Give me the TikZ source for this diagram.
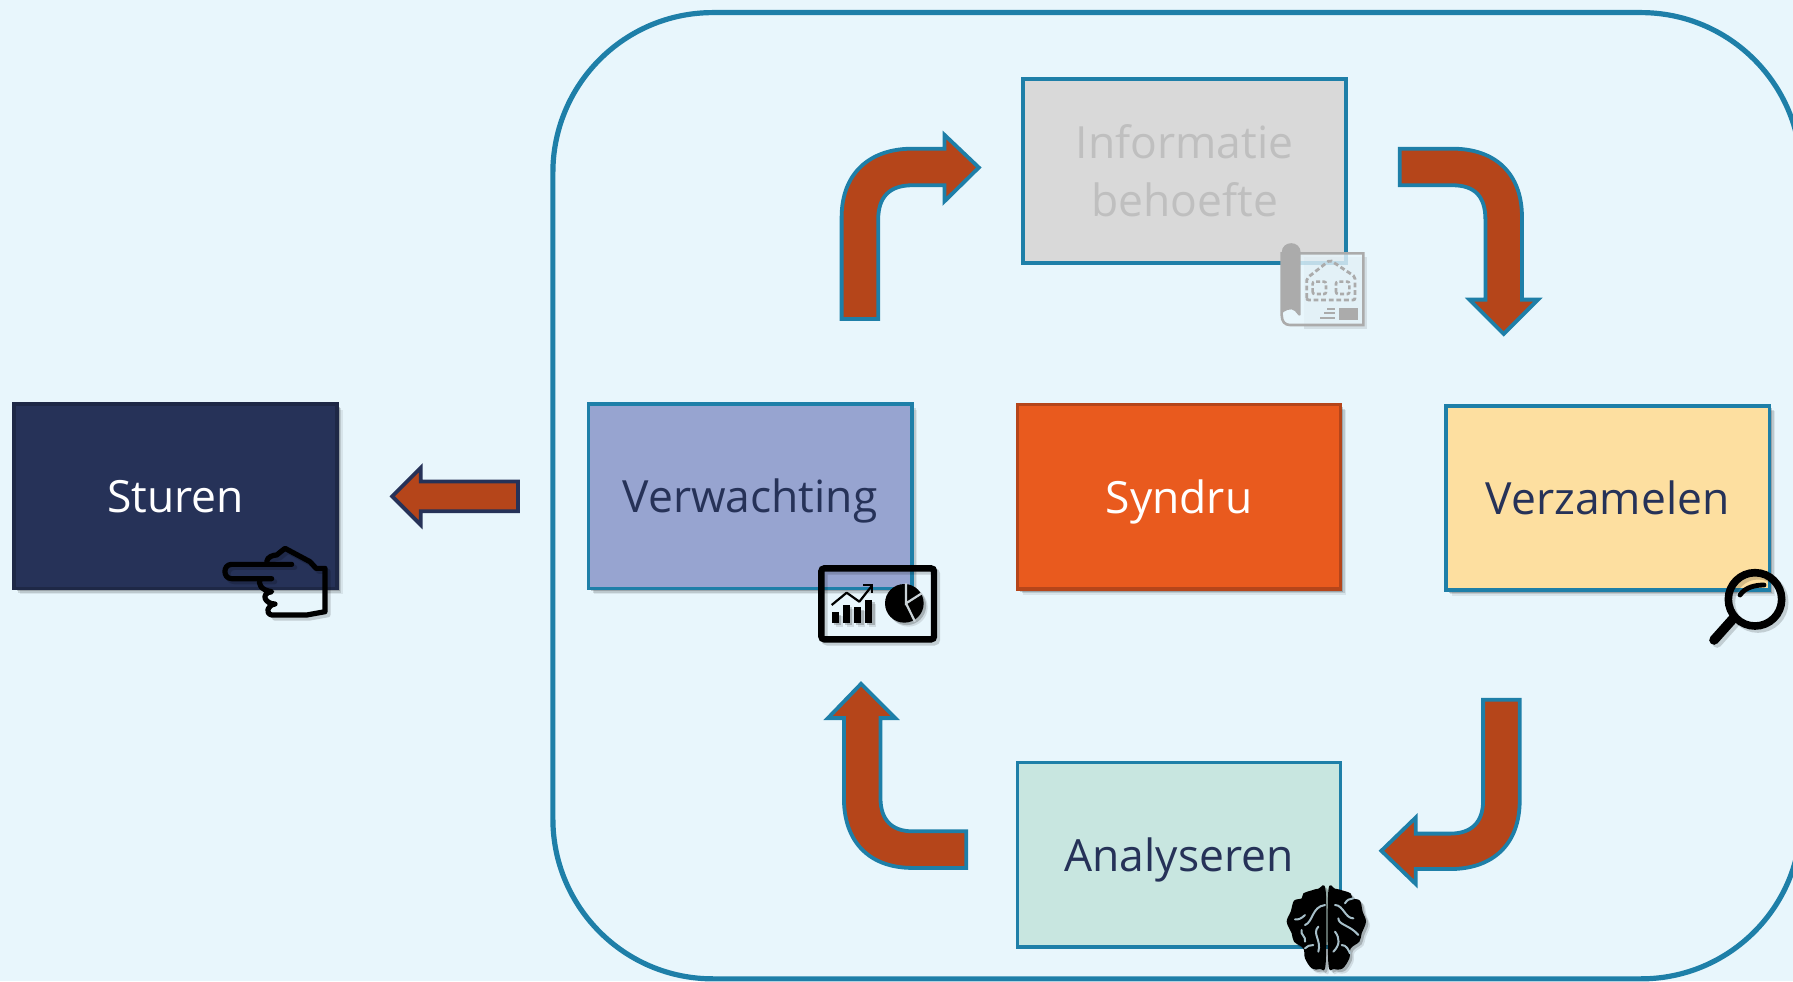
\documentclass[tikz,border=0pt]{standalone}
\usepackage{fontspec}
\setmainfont{Open Sans}
\usetikzlibrary{shadows}
\definecolor{bgc}{HTML}{E8F6FC}
\definecolor{teal}{HTML}{1E7FA8}
\definecolor{navy}{HTML}{263258}
\definecolor{rust}{HTML}{B5451A}
\definecolor{orng}{HTML}{E95A1E}
\definecolor{peri}{HTML}{97A4D0}
\definecolor{sand}{HTML}{FDDFA0}
\definecolor{mint}{HTML}{C8E6E0}
\definecolor{docg}{HTML}{ABABAB}
\newcommand{\bt}[1]{\raisebox{-0.4pt}[21.5pt][5.7pt]{#1}}
\tikzset{
  softshadow/.style={drop shadow={shadow xshift=2.8pt,shadow yshift=-2.8pt,opacity=.07,fill=black},drop shadow={shadow xshift=2.1pt,shadow yshift=-2.1pt,opacity=.12,fill=black},drop shadow={shadow xshift=1.3pt,shadow yshift=-1.3pt,opacity=.18,fill=black}},
  blockbox/.style={draw=teal,line width=1.8pt,minimum width=161.6pt,minimum height=92.2pt,inner sep=0pt,align=center,font=\fontsize{22.2}{29}\selectfont,text=navy},
  blockarrow/.style={draw=teal,fill=rust,line width=1.9pt,line join=miter},
  icon/.style 2 args={xshift=#1*0.5pt,yshift=-#2*0.5pt,x=0.16667pt,y=-0.16667pt},
  iconshade/.style={drop shadow={shadow xshift=2pt,shadow yshift=-2pt,opacity=.1,fill=black},drop shadow={shadow xshift=1.2pt,shadow yshift=-1.2pt,opacity=.2,fill=black}},
  strokeshade/.style={draw=black,draw opacity=.16,shift={(9,9)}},
}
\begin{document}
\begin{tikzpicture}[x=0.57175pt,y=-0.57175pt]
\useasboundingbox (0,0) rectangle (1568,858);
\fill[bgc] (0,0) rectangle (1568,858);
\begin{scope}
\clip (0,0) rectangle (1568,858);
\draw[teal,line width=2.6pt,rounded corners=80pt] (483.5,11) rectangle (1575,856);
\end{scope}
% boxes
\node[blockbox,softshadow,fill=navy,draw=navy!80!black,text=white] (sturen) at (153.5,434) {\bt{Sturen}};
\node[blockbox,softshadow,fill=peri] (verw) at (656,434) {\bt{Verwachting}};
\node[blockbox,softshadow,fill=orng,draw=rust,text=white] (syndru) at (1031,434.5) {\bt{Syndru}};
\node[blockbox,softshadow,fill=sand] (verz) at (1406,435.5) {\bt{Verzamelen}};
\node[blockbox,fill=black!15,text=black!25] (info) at (1036,149.5) {\bt{Informatie}\\\bt{behoefte}};
\node[blockbox,fill=mint] (anal) at (1031,747.5) {\bt{Analyseren}};
% block arrows
\draw[blockarrow] (736,279) -- (736,190) .. controls (736,152) and (760,130) .. (798,130) -- (826,130) -- (826,118) -- (856,146.5) -- (826,176) -- (826,162) -- (798,162) .. controls (778,162) and (768,172) .. (768,192) -- (768,279) -- cycle;
\draw[blockarrow] (1224,130) -- (1270,130) .. controls (1308,130) and (1331,152) .. (1331,190) -- (1331,262) -- (1345,262) -- (1315,292) -- (1285,262) -- (1299,262) -- (1299,192) .. controls (1299,172) and (1290,162) .. (1270,162) -- (1224,162) -- cycle;
\draw[blockarrow] (1329,612) -- (1297,612) -- (1297,700) .. controls (1297,719) and (1287,729) .. (1268,729) -- (1238,729) -- (1238,715) -- (1208,744) -- (1238,773) -- (1238,760) -- (1268,760) .. controls (1306,760) and (1329,738) .. (1329,700) -- cycle;
\draw[blockarrow] (845,727) -- (798,727) .. controls (780,727) and (770,717) .. (770,698) -- (770,628) -- (783,628) -- (753,598) -- (724,628) -- (738,628) -- (738,698) .. controls (738,736) and (760,759) .. (798,759) -- (845,759) -- cycle;
\draw[blockarrow,draw=navy] (453,421) -- (368,421) -- (368,409) -- (343,434) -- (368,459) -- (368,447) -- (453,447) -- cycle;
% hand icon
\begin{scope}[icon={210}{530},line width=2.6pt,line cap=round,line join=round]
\draw[strokeshade] (245,103) -- (65,103) .. controls (38,103) and (38,146) .. (65,146) -- (185,146) (170,95) .. controls (172,80) and (190,75) .. (200,75) -- (225,55) -- (300,95) -- (318,115) -- (345,115) -- (345,245) -- (290,255) -- (185,255);
\draw (245,103) -- (65,103) .. controls (38,103) and (38,146) .. (65,146) -- (185,146);
\draw (170,95) .. controls (172,80) and (190,75) .. (200,75) -- (225,55) -- (300,95) -- (318,115) -- (345,115) -- (345,245) -- (290,255) -- (185,255) .. controls (165,250) and (172,225) .. (195,222) .. controls (165,222) and (150,190) .. (185,185) .. controls (150,180) and (145,160) .. (150,148);
\end{scope}
% chart icon
\begin{scope}[icon={800}{550}]
\draw[strokeshade,line width=3.2pt,rounded corners=1.5pt] (64,55) rectangle (402,268);
\draw[line width=3.2pt,rounded corners=1.5pt] (64,55) rectangle (402,268);
\fill[iconshade] (95,187) rectangle (117,218);
\fill[iconshade] (128,165) rectangle (150,218);
\fill[iconshade] (162,172) rectangle (184,218);
\fill[iconshade] (195,150) rectangle (217,218);
\draw[line width=1.1pt,line join=round] (95,165) -- (140,128) -- (178,155) -- (215,108);
\draw[line width=1.1pt] (190,105) -- (217,105) -- (217,130);
\fill[iconshade] (313,160) circle[radius=58];
\draw[bgc!70!gray,line width=1.1pt] (318,100) -- (318,160) -- (365,130) (318,160) -- (345,215);
\end{scope}
% magnifier icon
\begin{scope}[icon={1690}{550},line cap=round]
\draw[strokeshade,line width=3.8pt] (195,148) circle[radius=80];
\draw[strokeshade,line width=4.8pt] (130,205) -- (72,270);
\draw[line width=3.8pt] (195,148) circle[radius=80];
\draw[line width=4.8pt] (130,205) -- (72,270);
\draw[line width=2.4pt] (150,135) .. controls (165,112) and (195,105) .. (222,105);
\end{scope}
% brain icon
\begin{scope}[icon={1270}{870}]
\fill[iconshade] plot[smooth cycle,tension=.55] coordinates {(167,62) (145,56) (122,62) (100,70) (95,85) (72,92) (62,125) (50,155) (65,190) (72,215) (100,235) (105,265) (125,295) (150,297) (167,280)};
\fill[iconshade] plot[smooth cycle,tension=.55] coordinates {(175,62) (195,56) (220,62) (242,70) (248,85) (270,92) (278,125) (288,155) (275,190) (268,215) (242,235) (238,265) (218,295) (192,297) (175,280)};
\begin{scope}[line width=1pt,line cap=round,draw=gray!50!teal!50!white]
\draw (75,148) .. controls (85,150) and (95,145) .. (105,135);
\draw (105,165) .. controls (130,155) and (125,110) .. (165,105);
\draw (95,180) .. controls (90,195) and (110,200) .. (105,215);
\draw (145,170) .. controls (125,190) and (155,210) .. (145,245);
\draw (105,235) .. controls (110,228) and (120,225) .. (130,225);
\draw (195,105) .. controls (220,105) and (225,145) .. (250,145);
\draw (205,145) .. controls (205,165) and (240,165) .. (265,195);
\draw (195,185) .. controls (210,205) and (210,225) .. (190,245);
\draw (215,225) .. controls (230,225) and (235,240) .. (240,250);
\draw (225,100) .. controls (230,90) and (240,85) .. (250,85);
\end{scope}
\end{scope}
% plan icon
\begin{scope}[icon={1240}{220},docg]
\fill[black,opacity=.09,shift={(12,12)}] (180,100) rectangle (370,315);
\path[fill=bgc,fill opacity=.8,draw=docg,line width=1.3pt] (180,100) -- (370,100) -- (370,315) -- (150,315) .. controls (135,315) and (125,305) .. (125,285) -- (125,100) -- cycle;
\path[fill=docg] (125,285) -- (125,98) .. controls (125,60) and (182,60) .. (182,98) -- (182,285) .. controls (175,295) and (170,270) .. (155,268) .. controls (135,268) and (125,280) .. (125,285) -- cycle;
\draw[line width=1.4pt,dash pattern=on 2.4pt off 1.4pt,rounded corners=1pt] (200,240) -- (200,175) -- (270,120) -- (345,170) -- (345,240) -- cycle;
\draw[line width=1.3pt,dash pattern=on 2pt off 1.2pt,rounded corners=1pt] (218,222) -- (218,185) -- (258,185) -- (258,222) -- cycle;
\draw[line width=1.3pt,dash pattern=on 2pt off 1.2pt,rounded corners=1pt] (288,222) -- (288,185) -- (328,185) -- (328,222) -- cycle;
\fill (298,265) rectangle (355,300);
\draw[line width=1pt] (262,267) -- (285,267) (252,280) -- (285,280) (240,293) -- (285,293);
\end{scope}
\end{tikzpicture}
\end{document}
